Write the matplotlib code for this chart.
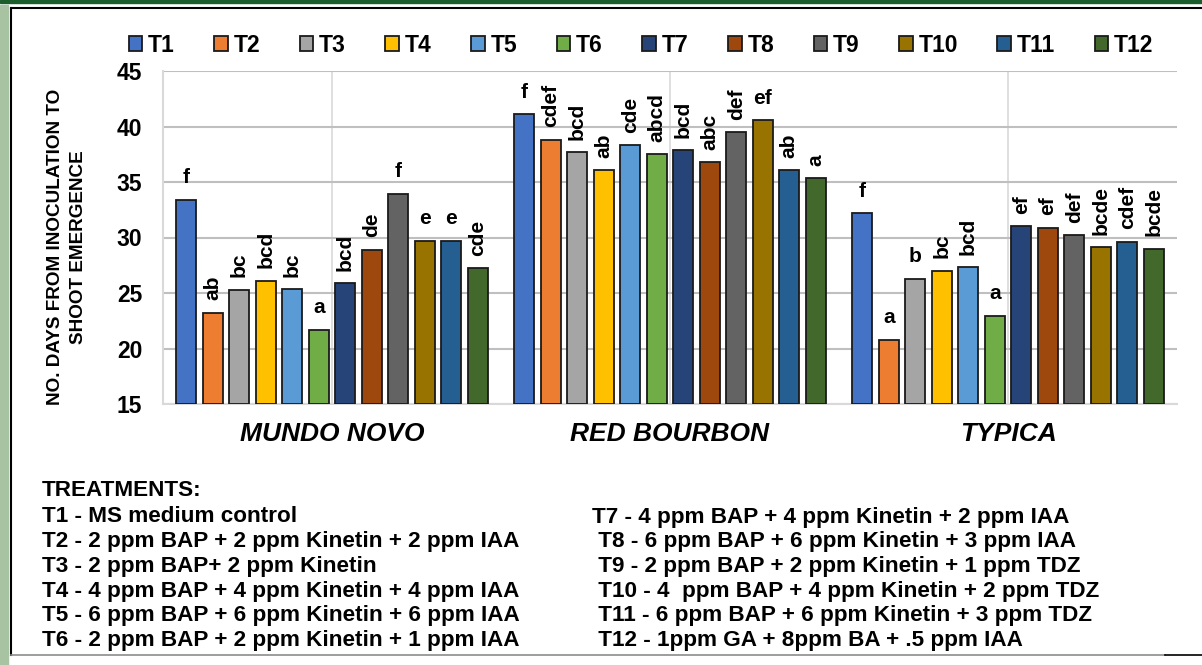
import matplotlib
matplotlib.use('Agg')
import matplotlib.pyplot as plt
import numpy as np
from matplotlib.patches import Rectangle
from matplotlib.lines import Line2D

# ---------------- data ----------------
categories = ['MUNDO NOVO', 'RED BOURBON', 'TYPICA']
treatments = ['T1', 'T2', 'T3', 'T4', 'T5', 'T6', 'T7', 'T8', 'T9', 'T10', 'T11', 'T12']
mundo_novo = [33.4, 23.2, 25.3, 26.1, 25.35, 21.7, 25.9, 28.9, 33.95, 29.7, 29.7, 27.25]
red_bourbon = [41.1, 38.8, 37.7, 36.05, 38.3, 37.5, 37.85, 36.8, 39.5, 40.55, 36.05, 35.35]
typica = [32.2, 20.8, 26.3, 27.0, 27.3, 22.95, 31.0, 30.9, 30.2, 29.1, 29.6, 29.0]
letters_mundo_novo = ['f', 'ab', 'bc', 'bcd', 'bc', 'a', 'bcd', 'de', 'f', 'e', 'e', 'cde']
letters_red_bourbon = ['f', 'cdef', 'bcd', 'ab', 'cde', 'abcd', 'bcd', 'abc', 'def', 'ef', 'ab', 'a']
letters_typica = ['f', 'a', 'b', 'bc', 'bcd', 'a', 'ef', 'ef', 'def', 'bcde', 'cdef', 'bcde']
y_ticks = [15, 20, 25, 30, 35, 40, 45]
y_label = 'NO. DAYS FROM INOCULATION TO\nSHOOT EMERGENCE'
legend_title = 'TREATMENTS:'
treatment_left = ['T1 - MS medium control',
                  'T2 - 2 ppm BAP + 2 ppm Kinetin + 2 ppm IAA',
                  'T3 - 2 ppm BAP+ 2 ppm Kinetin',
                  'T4 - 4 ppm BAP + 4 ppm Kinetin + 4 ppm IAA',
                  'T5 - 6 ppm BAP + 6 ppm Kinetin + 6 ppm IAA',
                  'T6 - 2 ppm BAP + 2 ppm Kinetin + 1 ppm IAA']
treatment_right = ['T7 - 4 ppm BAP + 4 ppm Kinetin + 2 ppm IAA',
                   ' T8 - 6 ppm BAP + 6 ppm Kinetin + 3 ppm IAA',
                   ' T9 - 2 ppm BAP + 2 ppm Kinetin + 1 ppm TDZ',
                   ' T10 - 4  ppm BAP + 4 ppm Kinetin + 2 ppm TDZ',
                   ' T11 - 6 ppm BAP + 6 ppm Kinetin + 3 ppm TDZ',
                   ' T12 - 1ppm GA + 8ppm BA + .5 ppm IAA']

# ---------------- style ----------------
colors = ['#4472C4', '#ED7D31', '#A5A5A5', '#FFC000', '#5B9BD5', '#70AD47',
          '#264478', '#9E480E', '#636363', '#997300', '#255E91', '#43682B']
upright_multi = {(1, 9)}     # multi-letter labels drawn horizontally
sideways_single = {(1, 11)}  # single-letter labels drawn vertically

plt.rcParams['font.family'] = ['Liberation Sans', 'DejaVu Sans']
plt.rcParams['font.weight'] = 'bold'

W, H = 1202, 665
fig = plt.figure(figsize=(W / 100, H / 100), dpi=100)

# frame decoration
fig.patches.append(Rectangle((0, 1 - 3 / H), 1, 3 / H, transform=fig.transFigure,
                             color='#1B5E2B', zorder=0))
fig.patches.append(Rectangle((0, 0), 8 / W, 1 - 5 / H, transform=fig.transFigure,
                             color='#A8C3A2', zorder=0))
fig.lines.append(Line2D([11 / W, 11 / W], [1 - 8 / H, 1 - 655 / H], transform=fig.transFigure,
                        color='black', lw=1.5))
fig.lines.append(Line2D([11 / W, 1 - 0 / W], [1 - 8 / H, 1 - 8 / H], transform=fig.transFigure,
                        color='black', lw=1.5))
fig.lines.append(Line2D([11 / W, 1165 / W], [1 - 655 / H, 1 - 655 / H], transform=fig.transFigure,
                        color='#8C8C8C', lw=1.2))
fig.lines.append(Line2D([1165 / W, 1], [1 - 655 / H, 1 - 655 / H], transform=fig.transFigure,
                        color='black', lw=1.2))

ax = fig.add_axes([163 / W, 1 - 404 / H, (1177 - 163) / W, (404 - 71) / H])

series = [mundo_novo, red_bourbon, typica]
letters = [letters_mundo_novo, letters_red_bourbon, letters_typica]
n = len(treatments)
slot = 0.0784
width = 0.059
x = np.arange(len(categories))
bars_handles = []
for i, t in enumerate(treatments):
    vals = [s[i] for s in series]
    offs = (i - (n - 1) / 2) * slot
    b = ax.bar(x + offs, np.array(vals) - 15, bottom=15, width=width, color=colors[i],
               edgecolor='#1A1A1A', linewidth=1.3, label=t, zorder=3)
    bars_handles.append(b)
    for c in range(len(categories)):
        lab = letters[c][i]
        vertical = (len(lab) > 1 and (c, i) not in upright_multi) or ((c, i) in sideways_single)
        ax.annotate(lab, (x[c] + offs, vals[c]), xytext=(0, 9), textcoords='offset points',
                    ha='center', va='bottom', rotation=90 if vertical else 0,
                    fontsize=15, fontweight='bold', color='black', zorder=4)

ax.set_ylim(15, 45)
ax.set_xlim(-0.5, 2.5)
ax.set_yticks(y_ticks)
ax.set_yticklabels([str(v) for v in y_ticks], fontsize=16.5, fontweight='bold')
ax.set_xticks(x)
ax.set_xticklabels(categories, fontsize=19, fontweight='bold', style='italic')
ax.tick_params(axis='both', length=0)
ax.tick_params(axis='y', pad=15)
ax.tick_params(axis='x', pad=13)
ax.grid(axis='y', color='#BFBFBF', lw=1.5, zorder=0)
for xc in x:
    ax.axvline(xc, color='#D9D9D9', lw=1.2, zorder=0)
for s in ['top', 'right']:
    ax.spines[s].set_visible(False)
for s in ['left', 'bottom']:
    ax.spines[s].set_color('#D9D9D9')
    ax.spines[s].set_linewidth(1.5)

fig.text(67 / W, 1 - 247 / H, y_label, rotation=90, ha='center', va='center',
         fontsize=13.6, fontweight='bold', linespacing=1.4)

leg = fig.legend(handles=bars_handles, labels=treatments, loc='center',
                 bbox_to_anchor=(641 / W, 1 - 45 / H), ncol=12, frameon=False,
                 prop={'weight': 'bold', 'size': 16.5}, handlelength=0.6, handleheight=0.6,
                 handletextpad=0.25, columnspacing=1.72, borderaxespad=0)

fs_t = 16.2
fig.text(42 / W, 1 - 491 / H, legend_title, ha='left', va='center', fontsize=fs_t, fontweight='bold')
for k, line in enumerate(treatment_left):
    fig.text(42 / W, 1 - (517 + k * 24.7) / H, line, ha='left', va='center',
             fontsize=fs_t, fontweight='bold')
for k, line in enumerate(treatment_right):
    fig.text(592 / W, 1 - (517 + k * 24.7) / H, line, ha='left', va='center',
             fontsize=fs_t, fontweight='bold')

fig.savefig('out.png', dpi=100)
